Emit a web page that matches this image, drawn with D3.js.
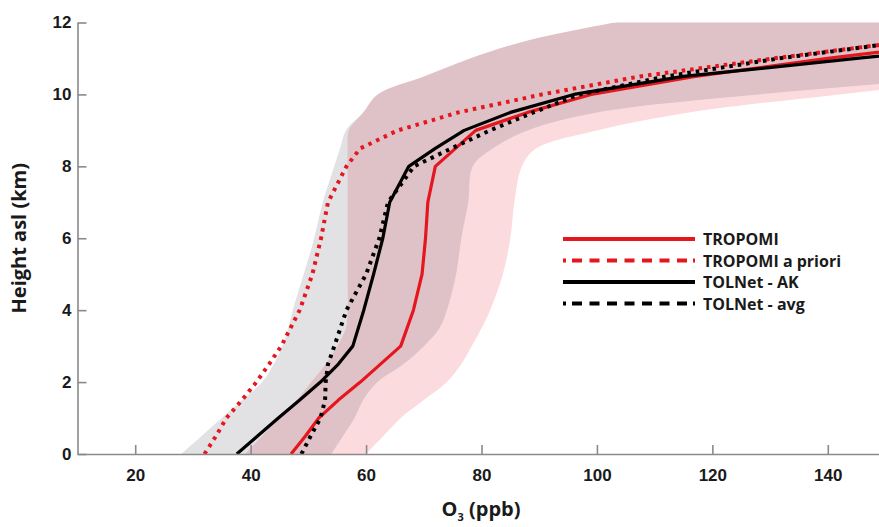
<!DOCTYPE html>
<html>
<head>
<meta charset="utf-8">
<script src="https://cdn.jsdelivr.net/npm/d3@7"></script>
<style>
    body { margin: 0; background: #fff; }
    svg  { display: block; font-family: "Open Sans", "Noto Sans", sans-serif; }
</style>
</head>
<body>
<div id="chart"></div>
<script>

// profiles (km asl -> ppb)
const heights      = [ 0, 0.5, 1, 1.5, 2, 2.5, 3, 4, 5, 6, 7, 8, 8.5, 9, 9.5, 10, 10.5, 11, 11.5, 12 ];
const tropomi      = [ 47, 49.5, 51.8, 55.2, 59, 62.5, 66, 68.2, 69.7, 70.3, 70.7, 72, 75.5, 79, 88, 99, 117, 140, 165, 190 ];
const tropomiPrior = [ 32, 34, 35.8, 38.5, 41, 43.2, 45.3, 48.5, 50.7, 52.2, 53.4, 56.6, 59, 65.5, 76, 90.5, 107.4, 130.5, 155, 185 ];
const tolnetAK     = [ 37.6, 41.2, 44.8, 48.5, 52.1, 55.2, 57.7, 59.6, 61.3, 62.9, 64.1, 67.4, 72, 77, 85, 96, 115, 145, 175, 200 ];
const tolnetAvg    = [ 48.8, 50.4, 52.1, 52.9, 53, 53.4, 54.5, 56.6, 60, 62.3, 63.8, 68.3, 74.8, 81.5, 89, 97, 112, 131.5, 155, 185 ];

// shaded ranges
const bandHeights = [ 0, 0.5, 1, 1.5, 2, 2.5, 3, 3.5, 4, 5, 6, 7, 8, 8.5, 9, 9.5, 10, 10.5, 11, 11.5, 12, 12.5 ];
const grayLow     = [ 28, 31.5, 35, 38.5, 42, 44, 45.5, 46.5, 47.3, 49.2, 51, 52.5, 54.5, 55.5, 56.5, 59.5, 62, 70, 78, 88, 103, 120 ];
const grayHigh    = [ 54, 56, 58, 59.5, 62, 66.5, 70, 72.7, 74, 75.6, 76.5, 77.7, 78.5, 82, 88, 100, 128, 165, 200, 220, 240, 250 ];
const pinkLow     = [ 39, 42, 45, 48, 50.5, 53, 55, 56.5, 56.8, 56.8, 56.8, 56.8, 56.8, 56.8, 57, 59.5, 62, 70, 78, 88, 103, 120 ];
const pinkHigh    = [ 60, 63, 66, 70, 74, 76.5, 78.3, 80, 81.5, 83.7, 85, 85.7, 87, 89.5, 100, 116, 142, 170, 200, 220, 240, 250 ];

const xTicks = [ 20, 40, 60, 80, 100, 120, 140 ];
const yTicks = [ 0, 2, 4, 6, 8, 10, 12 ];

const legendNames = [ "TROPOMI", "TROPOMI a priori", "TOLNet - AK", "TOLNet - avg" ];

const width  = 879;
const height = 527;

const red   = "#e3171d";
const black = "#000";

const x = d3.scaleLinear().domain( [ 10, 150 ] ).range( [ 77.5, 885.5 ] );
const y = d3.scaleLinear().domain( [ 0, 12 ] ).range( [ 454, 22.5 ] );

const svg = d3.select( "#chart" )
              .append( "svg" )
              .attr( "width",  width )
              .attr( "height", height );

svg.append( "clipPath" )
   .attr( "id", "plotclip" )
   .append( "rect" )
   .attr( "x", x( 10 ) )
   .attr( "y", y( 12 ) )
   .attr( "width",  x( 150 ) - x( 10 ) )
   .attr( "height", y( 0 ) - y( 12 ) );

const plot = svg.append( "g" ).attr( "clip-path", "url(#plotclip)" );

const band = ( lo, hi ) => d3.area()
    .curve( d3.curveCatmullRom )
    .y(  ( d, i ) => y( bandHeights[ i ] ) )
    .x0( ( d, i ) => x( lo[ i ] ) )
    .x1( ( d, i ) => x( hi[ i ] ) )( bandHeights );

plot.append( "path" )
    .attr( "d", band( grayLow, grayHigh ) )
    .attr( "fill", "#e2e2e5" );

plot.append( "path" )
    .attr( "d", band( pinkLow, pinkHigh ) )
    .attr( "fill", "#fcdbde" )
    .style( "mix-blend-mode", "multiply" );

const line = vals => d3.line()
    .x( ( d, i ) => x( vals[ i ] ) )
    .y( ( d, i ) => y( heights[ i ] ) )( heights );

const series = [
    { vals: tropomi,      color: red,   dash: null,      w: 3.2 },
    { vals: tropomiPrior, color: red,   dash: "3.5,5",   w: 4   },
    { vals: tolnetAK,     color: black, dash: null,      w: 3.2 },
    { vals: tolnetAvg,    color: black, dash: "3.5,5",   w: 4   }
];

series.forEach( s =>
{
    plot.append( "path" )
        .attr( "d", line( s.vals ) )
        .attr( "fill", "none" )
        .attr( "stroke", s.color )
        .attr( "stroke-width", s.w )
        .attr( "stroke-dasharray", s.dash )
        .attr( "stroke-linejoin", "round" );
});

// axes, ticks point inward
const axisColor = "#8a8a8a";

const gx = svg.append( "g" )
              .attr( "transform", `translate(0,${ y( 0 ) })` )
              .call( d3.axisBottom( x ).tickValues( xTicks ).tickSizeInner( -9 ).tickSizeOuter( 0 ).tickPadding( 15 ) );

const gy = svg.append( "g" )
              .attr( "transform", `translate(${ x( 10 ) },0)` )
              .call( d3.axisLeft( y ).tickValues( yTicks ).tickSizeInner( -9 ).tickSizeOuter( 0 ).tickPadding( 6 ) );

[ gx, gy ].forEach( g =>
{
    g.select( ".domain" ).attr( "stroke", axisColor ).attr( "stroke-width", 1.6 );
    g.selectAll( ".tick line" ).attr( "stroke", axisColor ).attr( "stroke-width", 1.6 );
    g.selectAll( ".tick text" )
     .attr( "fill", "#1a1a1a" )
     .style( "font-size", "17px" )
     .style( "font-weight", "bold" );
});

svg.append( "text" )
   .attr( "transform", `translate(26,${ ( y( 0 ) + y( 12 ) ) / 2 }) rotate(-90)` )
   .attr( "text-anchor", "middle" )
   .attr( "fill", "#1a1a1a" )
   .style( "font-size", "20px" )
   .style( "font-weight", "bold" )
   .text( "Height asl (km)" );

const xl = svg.append( "text" )
              .attr( "x", 481 )
              .attr( "y", 516 )
              .attr( "text-anchor", "middle" )
              .attr( "fill", "#1a1a1a" )
              .style( "font-size", "20px" )
              .style( "font-weight", "bold" );

xl.append( "tspan" ).text( "O" );
xl.append( "tspan" ).attr( "dy", 5 ).style( "font-size", "11px" ).text( "3" );
xl.append( "tspan" ).attr( "dy", -5 ).text( " (ppb)" );

// legend
const legendDots = "3,6,10,7.5,10,7.5,10,7.5,10,7.5,10,7.5,10,7.5,10,6,3";

const legend = svg.append( "g" );

legendNames.forEach( ( name, i ) =>
{
    const ly = 239 + i * 21.5;
    const s  = series[ i ];

    legend.append( "line" )
          .attr( "x1", 563 )
          .attr( "x2", 695 )
          .attr( "y1", ly )
          .attr( "y2", ly )
          .attr( "stroke", s.color )
          .attr( "stroke-width", 4 )
          .attr( "stroke-dasharray", s.dash ? legendDots : null );

    legend.append( "text" )
          .attr( "x", 703 )
          .attr( "y", ly + 6 )
          .attr( "fill", "#1a1a1a" )
          .style( "font-size", "16px" )
          .style( "font-weight", "bold" )
          .text( name );
});

</script>
</body>
</html>
